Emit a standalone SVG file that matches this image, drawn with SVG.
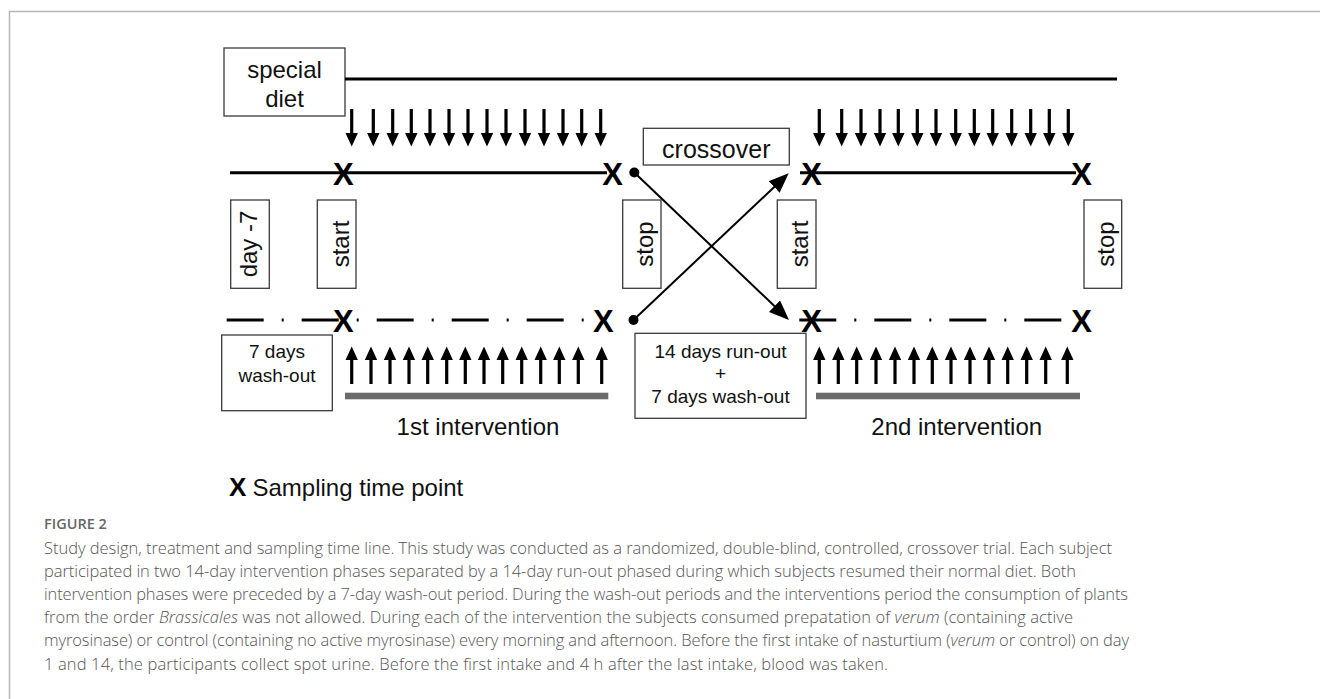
<svg xmlns="http://www.w3.org/2000/svg" xmlns:xlink="http://www.w3.org/1999/xlink" width="1320" height="699" viewBox="0 0 1320 699">
<style>
.box{fill:#fff;stroke:#3a3a3a;stroke-width:1.3}
.lbl{font-family:"Liberation Sans",Arial,sans-serif;fill:#111;text-anchor:middle}
.l24{font-size:24px}
.l19{font-size:19px}
.xm{font-family:"Liberation Sans",Arial,sans-serif;font-weight:bold;font-size:31px;fill:#000;text-anchor:middle}
.solid{stroke:#000;stroke-width:3;fill:none}
.dash{stroke:#000;stroke-width:3;fill:none;stroke-dasharray:37 18 2 18}
.bar{fill:#6b6b6b}
.cap{font-family:"Open Sans","Liberation Sans",sans-serif;font-size:16.5px;font-weight:300;fill:#555}
.it{font-style:italic}
.conn{stroke:#000;stroke-width:2;fill:none}
</style>
<defs>
<path id="da" d="M-1.6,0 h3.2 v24 h4.6 l-6.2,13.5 l-6.2,-13.5 h4.6 z" fill="#000"/>
<path id="ua" d="M0,0 l6.2,13.5 h-4.6 v24 h-3.2 v-24 h-4.6 l6.2,-13.5 z" fill="#000"/>
<marker id="ah" markerUnits="userSpaceOnUse" markerWidth="22" markerHeight="18" refX="16" refY="8" orient="auto" viewBox="0 0 22 18">
<path d="M0,0 L20,8 L0,16 z" fill="#000"/>
</marker>
</defs>
<rect width="1320" height="699" fill="#fff"/>
<path d="M9.5,699 V11.5 H1320" fill="none" stroke="#b5b5b5" stroke-width="1.5"/>

<g id="special-diet">
<rect class="box" x="224" y="48" width="121" height="68"/>
<text class="lbl l24" x="284.5" y="78">special</text>
<text class="lbl l24" x="284.5" y="107">diet</text>
</g>
<g id="diet-line"><line class="solid" x1="345" y1="79" x2="1117" y2="79"/></g>

<g id="intake-arrows-top">
<use xlink:href="#da" x="351.7" y="109"/><use xlink:href="#da" x="373.3" y="109"/><use xlink:href="#da" x="392.7" y="109"/><use xlink:href="#da" x="411.3" y="109"/><use xlink:href="#da" x="430" y="109"/><use xlink:href="#da" x="449" y="109"/><use xlink:href="#da" x="468" y="109"/><use xlink:href="#da" x="487" y="109"/><use xlink:href="#da" x="506" y="109"/><use xlink:href="#da" x="525" y="109"/><use xlink:href="#da" x="544" y="109"/><use xlink:href="#da" x="563" y="109"/><use xlink:href="#da" x="581.7" y="109"/><use xlink:href="#da" x="600.7" y="109"/>
<use xlink:href="#da" x="819.3" y="109"/><use xlink:href="#da" x="841.7" y="109"/><use xlink:href="#da" x="861" y="109"/><use xlink:href="#da" x="880" y="109"/><use xlink:href="#da" x="898.3" y="109"/><use xlink:href="#da" x="917.3" y="109"/><use xlink:href="#da" x="936" y="109"/><use xlink:href="#da" x="955.7" y="109"/><use xlink:href="#da" x="974.3" y="109"/><use xlink:href="#da" x="992.7" y="109"/><use xlink:href="#da" x="1011.7" y="109"/><use xlink:href="#da" x="1030.7" y="109"/><use xlink:href="#da" x="1049.3" y="109"/><use xlink:href="#da" x="1068.3" y="109"/>
</g>

<g id="timeline-verum">
<line class="solid" x1="230" y1="172.7" x2="607" y2="172.7"/>
<line class="solid" x1="800" y1="172.7" x2="1076" y2="172.7"/>
<text class="xm" x="343.3" y="185">X</text>
<text class="xm" x="612.5" y="185">X</text>
<text class="xm" x="811.5" y="185">X</text>
<text class="xm" x="1081.7" y="185">X</text>
</g>

<g id="timeline-control">
<line class="dash" x1="226.7" y1="320" x2="590" y2="320"/>
<line class="dash" x1="799.3" y1="320" x2="1063" y2="320"/>
<text class="xm" x="343.3" y="331.7">X</text>
<text class="xm" x="603.3" y="331.7">X</text>
<text class="xm" x="811.5" y="331.7">X</text>
<text class="xm" x="1081.7" y="331.7">X</text>
</g>

<g id="crossover">
<rect class="box" x="643.3" y="128.3" width="146" height="36.7"/>
<text class="lbl" font-size="25" x="716.3" y="158">crossover</text>
</g>

<g id="day-minus-7">
<rect class="box" x="230.7" y="200" width="38.6" height="88.3"/>
<text class="lbl l24" transform="translate(257,244) rotate(-90)">day -7</text>
</g>
<g id="start-1">
<rect class="box" x="317.3" y="200" width="38.7" height="88.3"/>
<text class="lbl l24" transform="translate(348.5,244) rotate(-90)">start</text>
</g>
<g id="stop-1">
<rect class="box" x="622.7" y="200" width="38.3" height="88.3"/>
<text class="lbl l24" transform="translate(653,244) rotate(-90)">stop</text>
</g>
<g id="start-2">
<rect class="box" x="777.3" y="200" width="38.7" height="88.3"/>
<text class="lbl l24" transform="translate(808,244) rotate(-90)">start</text>
</g>
<g id="stop-2">
<rect class="box" x="1084" y="200" width="37.7" height="88.3"/>
<text class="lbl l24" transform="translate(1114,244) rotate(-90)">stop</text>
</g>

<g id="connectors">
<line class="conn" x1="634.3" y1="172.5" x2="786.1" y2="317.2" marker-end="url(#ah)"/>
<line class="conn" x1="633.5" y1="320" x2="785.8" y2="176" marker-end="url(#ah)"/>
<circle cx="634.3" cy="172.5" r="5" fill="#000"/>
<circle cx="633.5" cy="320" r="5" fill="#000"/>
</g>

<g id="wash-out-1">
<rect class="box" x="221.7" y="335" width="110.6" height="75.7"/>
<text class="lbl l19" x="277" y="358.3">7 days</text>
<text class="lbl l19" x="277" y="381.7">wash-out</text>
</g>
<g id="run-out">
<rect class="box" x="635" y="333.3" width="171" height="85"/>
<text class="lbl l19" x="720.5" y="358.3">14 days run-out</text>
<text class="lbl l19" x="720.5" y="380">+</text>
<text class="lbl l19" x="720.5" y="403.3">7 days wash-out</text>
</g>

<g id="intake-arrows-bottom">
<use xlink:href="#ua" x="351.7" y="346.5"/><use xlink:href="#ua" x="371" y="346.5"/><use xlink:href="#ua" x="390" y="346.5"/><use xlink:href="#ua" x="409" y="346.5"/><use xlink:href="#ua" x="427.7" y="346.5"/><use xlink:href="#ua" x="446.7" y="346.5"/><use xlink:href="#ua" x="465.3" y="346.5"/><use xlink:href="#ua" x="484" y="346.5"/><use xlink:href="#ua" x="502.7" y="346.5"/><use xlink:href="#ua" x="521.7" y="346.5"/><use xlink:href="#ua" x="540.7" y="346.5"/><use xlink:href="#ua" x="559.3" y="346.5"/><use xlink:href="#ua" x="578.3" y="346.5"/><use xlink:href="#ua" x="601.7" y="346.5"/>
<use xlink:href="#ua" x="819.3" y="346.5"/><use xlink:href="#ua" x="838.3" y="346.5"/><use xlink:href="#ua" x="856.7" y="346.5"/><use xlink:href="#ua" x="876" y="346.5"/><use xlink:href="#ua" x="895" y="346.5"/><use xlink:href="#ua" x="914" y="346.5"/><use xlink:href="#ua" x="932.3" y="346.5"/><use xlink:href="#ua" x="951" y="346.5"/><use xlink:href="#ua" x="970" y="346.5"/><use xlink:href="#ua" x="989" y="346.5"/><use xlink:href="#ua" x="1007.7" y="346.5"/><use xlink:href="#ua" x="1026.7" y="346.5"/><use xlink:href="#ua" x="1045.7" y="346.5"/><use xlink:href="#ua" x="1067.3" y="346.5"/>
</g>

<g id="intervention-1">
<rect class="bar" x="345" y="392.7" width="263.3" height="6.6"/>
<text class="lbl l24" x="478" y="435">1st intervention</text>
</g>
<g id="intervention-2">
<rect class="bar" x="816" y="392.7" width="264" height="6.6"/>
<text class="lbl l24" x="956.7" y="435">2nd intervention</text>
</g>

<g id="legend">
<text x="229" y="496" font-family="Liberation Sans,Arial,sans-serif" font-weight="bold" font-size="26" fill="#000">X</text>
<text x="252.5" y="496" font-family="Liberation Sans,Arial,sans-serif" font-size="24" fill="#111">Sampling time point</text>
</g>

<g id="caption">
<text x="44" y="529" font-family="Open Sans,Liberation Sans,sans-serif" font-weight="600" font-size="14.5" fill="#666">FIGURE 2</text>
<text class="cap" x="44" y="553.5" textLength="1068" lengthAdjust="spacing">Study design, treatment and sampling time line. This study was conducted as a randomized, double-blind, controlled, crossover trial. Each subject</text>
<text class="cap" x="44" y="576.7" textLength="1032" lengthAdjust="spacing">participated in two 14-day intervention phases separated by a 14-day run-out phased during which subjects resumed their normal diet. Both</text>
<text class="cap" x="44" y="599.9" textLength="1084" lengthAdjust="spacing">intervention phases were preceded by a 7-day wash-out period. During the wash-out periods and the interventions period the consumption of plants</text>
<text class="cap" x="44" y="623.1" textLength="1029" lengthAdjust="spacing">from the order <tspan class="it">Brassicales</tspan> was not allowed. During each of the intervention the subjects consumed prepatation of <tspan class="it">verum</tspan> (containing active</text>
<text class="cap" x="44" y="646.3" textLength="1085" lengthAdjust="spacing">myrosinase) or control (containing no active myrosinase) every morning and afternoon. Before the first intake of nasturtium (<tspan class="it">verum</tspan> or control) on day</text>
<text class="cap" x="44" y="669.5" textLength="844" lengthAdjust="spacing">1 and 14, the participants collect spot urine. Before the first intake and 4 h after the last intake, blood was taken.</text>
</g>
</svg>
